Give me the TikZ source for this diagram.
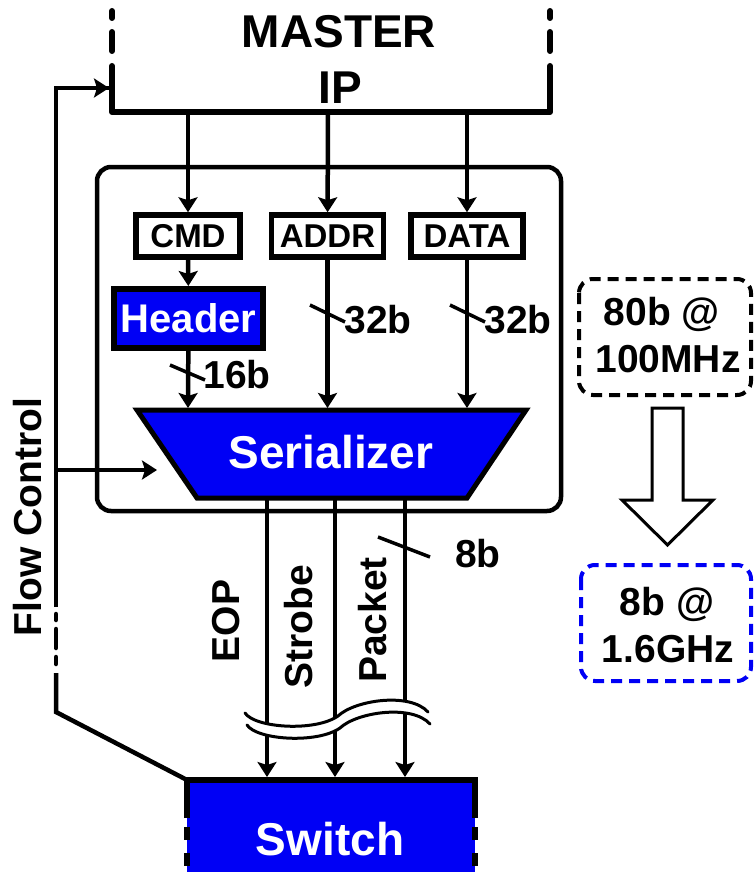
\documentclass[tikz,border=0pt]{standalone}
\usepackage{fontspec}
\setmainfont{Liberation Sans}
\usetikzlibrary{arrows.meta}
\newcommand\myfs[1]{\fontsize{#1}{#1}\selectfont}
\definecolor{pblue}{RGB}{0,0,245}
\begin{document}
\begin{tikzpicture}[x=1pt,y=-1pt,
  lbl/.style={inner sep=0pt, anchor=base, font=\bfseries\myfs{39}},
  wire/.style={line width=4.5pt},
  arr/.style={line width=4.5pt, -{Stealth[length=15pt,width=19pt,inset=3pt]}},
  tick/.style={line width=3.5pt},
  regbox/.style={draw, line width=5.5pt, inner sep=0pt, minimum height=42pt, font=\bfseries\myfs{33}},
  dbox/.style={line width=4pt, dash pattern=on 11pt off 7pt, rounded corners=14pt},
  dsh/.style={line width=6pt, line cap=round}
]
\useasboundingbox (0,0) rectangle (755,872);

% ---- Master IP ----
\node[lbl, font=\bfseries\myfs{46}] (master) at (339,48) {MASTER};
\node[lbl, font=\bfseries\myfs{46}] (ip) at (340,103) {IP};
\draw[line width=6pt, line join=round, line cap=round] (112,66) -- (112,112) -- (550,112) -- (550,66);
\foreach \xx in {112,550}{
  \draw[dsh] (\xx,11) -- (\xx,18);
  \draw[dsh] (\xx,32) -- (\xx,51);
}
\coordinate (bus1) at (188,112);
\coordinate (bus2) at (328,112);
\coordinate (bus3) at (467,112);
\coordinate (ipin) at (109,88);

% ---- inner rounded box ----
\draw[line width=4.5pt, rounded corners=14pt] (97,167) rectangle (561,511);

% ---- registers ----
\node[regbox, minimum width=104pt] (cmd) at (188,236) {CMD};
\node[regbox, minimum width=112pt] (addr) at (327.5,236) {ADDR};
\node[regbox, minimum width=112pt] (data) at (467,236) {DATA};

\draw[arr] (bus1) -- (cmd);
\draw[arr] (bus2) -- (addr);
\draw[arr] (bus3) -- (data);

% ---- header ----
\node[draw, fill=pblue, line width=6pt, inner sep=0pt, minimum width=149pt, minimum height=59pt,
      text=white, font=\bfseries\myfs{40}] (header) at (188.5,318.5) {Header};
\draw[arr] (cmd) -- (header);

% ---- serializer ----
\draw[fill=pblue, line width=5pt, line join=miter] (137,410) -- (526,410) -- (467,498) -- (197,498) -- cycle;
\node[lbl, text=white, font=\bfseries\myfs{46}] (ser) at (331,468) {Serializer};
\coordinate (sin1) at (188,408);
\coordinate (sin2) at (327.5,408);
\coordinate (sin3) at (467,408);
\coordinate (sinf) at (157,470);
\coordinate (sout1) at (267,500);
\coordinate (sout2) at (335,500);
\coordinate (sout3) at (405,500);

\draw[arr] (header) -- (sin1);
\draw[arr] (addr) -- (sin2);
\draw[arr] (data) -- (sin3);

\draw[tick] (170,365) -- (205,380);
\draw[tick] (310,305) -- (345,322);
\draw[tick] (450,305) -- (485,322);
\node[lbl] (l16) at (237,388) {16b};
\node[lbl] (l32a) at (378,333) {32b};
\node[lbl] (l32b) at (518,333) {32b};

% ---- switch ----
\fill[pblue] (187,780) rectangle (475,885);
\draw[line width=6pt, line join=miter] (187,818) -- (187,780) -- (475,780) -- (475,818);
\draw[line width=6pt, dash pattern=on 13pt off 13pt] (187,827) -- (187,885);
\draw[line width=6pt, dash pattern=on 13pt off 13pt] (475,827) -- (475,885);
\node[lbl, text=white, font=\bfseries\myfs{46}] (switch) at (330,855) {Switch};
\coordinate (swin1) at (267,777);
\coordinate (swin2) at (335,777);
\coordinate (swin3) at (405,777);
\coordinate (swc) at (189,781);

\draw[arr] (sout1) -- (swin1);
\draw[arr] (sout2) -- (swin2);
\draw[arr] (sout3) -- (swin3);

\draw[tick] (378,537) -- (430,557);
\node[lbl] (l8) at (478,567) {8b};

\node[lbl, anchor=center, rotate=90] (eop) at (226,621) {EOP};
\node[lbl, anchor=center, rotate=90] (strobe) at (299,627) {Strobe};
\node[lbl, anchor=center, rotate=90] (packet) at (373,620) {Packet};

% ---- wave break ----
\fill[white] (245,713) .. controls (255,728) and (315,732) .. (338,716)
  .. controls (355,700) and (410,692) .. (428,712)
  -- (430,724) .. controls (412,704) and (357,712) .. (340,728)
  .. controls (317,744) and (257,740) .. (247,725) -- cycle;
\draw[line width=3pt, line cap=round] (245,713) .. controls (255,728) and (315,732) .. (338,716)
  .. controls (355,700) and (410,692) .. (428,712);
\draw[line width=3pt, line cap=round] (247,725) .. controls (257,740) and (317,744) .. (340,728)
  .. controls (357,712) and (412,704) .. (430,724);

% ---- flow control ----
\coordinate (fc1) at (56,712);
\coordinate (fc2) at (56,673);
\coordinate (fc3) at (56,607);
\coordinate (fc4) at (56,88);
\coordinate (fcb) at (56,470);
\draw[wire, line join=miter] (swc) -- (fc1) -- (fc2);
\draw[wire, line cap=round] (56,614) -- (56,620);
\draw[wire, line cap=round] (56,629) -- (56,648);
\draw[wire, line cap=round] (56,657) -- (56,664);
\draw[wire, line join=miter] (fc3) -- (fc4) -- (ipin);
\draw[arr] (fc4) -- (ipin);
\draw[arr] (fcb) -- (sinf);
\node[lbl, anchor=center, rotate=90] (flow) at (27.5,517) {Flow Control};

% ---- right side ----
\draw[dbox] (579,279) rectangle (751,395);
\node[lbl] (r1) at (662,325) {80b @};
\node[lbl] (r2) at (668,372) {100MHz};
\draw[line width=3pt, fill=white, line join=miter] (652,408) -- (683,408) -- (683,500) -- (713,500) -- (667.5,545) -- (622,500) -- (652,500) -- cycle;
\draw[dbox, pblue] (581,565) rectangle (751,681);
\node[lbl] (r3) at (667,615) {8b @};
\node[lbl] (r4) at (668,662) {1.6GHz};
\end{tikzpicture}
\end{document}
